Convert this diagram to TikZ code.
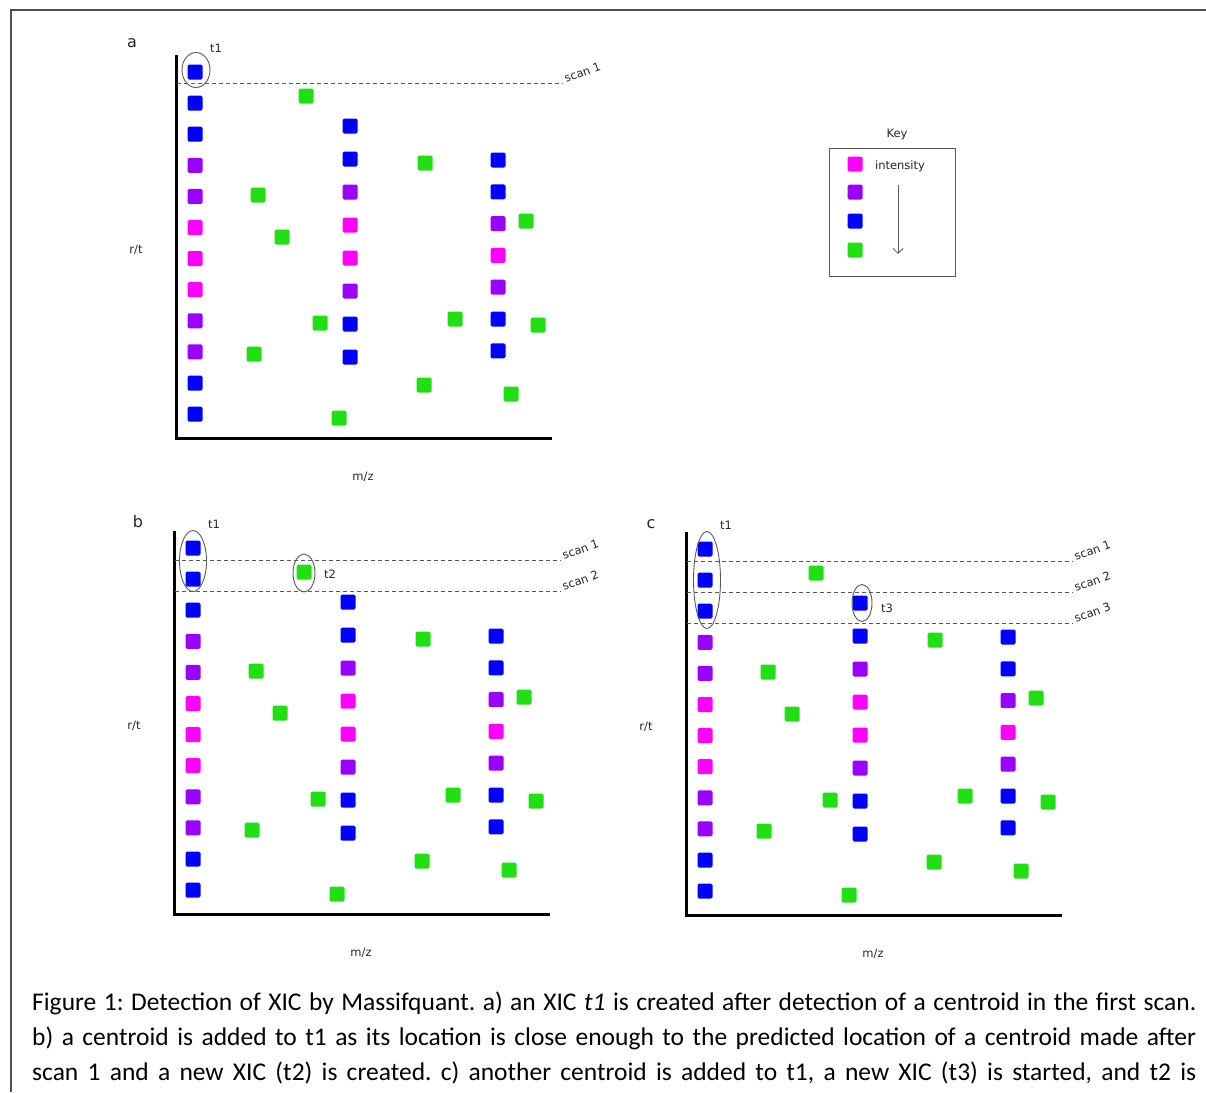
\documentclass[tikz,border=0pt]{standalone}
\usepackage{fontspec}
\newfontfamily\lblfont{DejaVu Sans}
\newfontfamily\capfont{Carlito}
\usetikzlibrary{arrows.meta,shapes.geometric}

\definecolor{bl}{RGB}{0,0,255}
\definecolor{pu}{RGB}{153,0,255}
\definecolor{mg}{RGB}{255,0,255}
\definecolor{gr}{RGB}{32,224,20}
\definecolor{framegray}{RGB}{80,80,80}
\definecolor{inkgray}{RGB}{90,90,90}

\tikzset{
  sq/.style={rectangle, minimum size=15pt, inner sep=0pt, rounded corners=1.5pt, draw=none},
  axisline/.style={line width=3pt, black, line join=miter},
  scanline/.style={inkgray, line width=0.8pt, dash pattern=on 4pt off 3pt},
  ring/.style={ellipse, draw=inkgray, line width=0.9pt, inner sep=0pt},
  lbl/.style={font=\lblfont\fontsize{11.5}{13}\selectfont, text=black!85, inner sep=0pt},
  panellbl/.style={font=\lblfont\fontsize{16}{18}\selectfont, text=black!85, inner sep=0pt},
  scanlbl/.style={lbl, anchor=base west, rotate=20},
  caption/.style={font=\capfont\fontsize{25.5}{30}\selectfont, anchor=base west, inner sep=0pt},
}

% one panel of centroids: three m/z columns of XIC points plus scattered noise
\newcommand\xicpanel[1]{%
  \foreach \c [count=\i] in {bl,bl,bl,pu,pu,mg,mg,mg,pu,pu,bl,bl}
    \node[sq, fill=\c] (#1-c1-\i) at (195,{72+31.1*(\i-1)}) {};
  \foreach \c [count=\i] in {bl,bl,pu,mg,mg,pu,bl,bl}
    \node[sq, fill=\c] (#1-c2-\i) at (350,{126+33*(\i-1)}) {};
  \foreach \c [count=\i] in {bl,bl,pu,mg,pu,bl,bl}
    \node[sq, fill=\c] (#1-c3-\i) at (498,{160+31.8*(\i-1)}) {};
  \foreach \p [count=\i] in {(306,96),(425,163),(258,195),(282,237),(526,221),(320,323),
                            (455,319),(538,325),(254,354),(424,385),(511,394),(339,418)}
    \node[sq, fill=gr] (#1-g-\i) at \p {};
  \coordinate (#1-ytop) at (176,55);
  \coordinate (#1-xend) at (552,438);
  \draw[axisline] (#1-ytop) |- (#1-xend);
  \node[lbl] (#1-rt) at (136,250) {r/t};
  \node[lbl] (#1-mz) at (363,477) {m/z};
  \node[lbl] (#1-t1) at (216,48) {t1};
}

\begin{document}
\begin{tikzpicture}[x=1pt,y=-1pt]
\useasboundingbox (0,0) rectangle (1206,1092);
\fill[white] (0,0) rectangle (1206,1092);

% outer frame
\coordinate (fr-bl) at (11,1092);
\coordinate (fr-tl) at (11,10);
\coordinate (fr-tr) at (1206,10);
\draw[framegray, line width=2pt] (fr-bl) -- (fr-tl) -- (fr-tr);

% ---------- panel a ----------
\begin{scope}
  \xicpanel{a}
  \node[panellbl] (a-lab) at (132,43) {a};
  \coordinate (a-s1l) at (177,83);
  \coordinate (a-s1r) at (563,83);
  \draw[scanline] (a-s1l) -- (a-s1r);
  \node[scanlbl] (a-s1) at ([xshift=3pt]a-s1r) {scan 1};
  \node[ring, minimum width=28pt, minimum height=35pt] (a-e1) at (196,70) {};
\end{scope}

% key
\node[draw=inkgray, line width=0.9pt, minimum width=126pt, minimum height=128pt, inner sep=0pt] (key) at (892,212) {};
\node[lbl] (key-title) at (897,135) {Key};
\node[sq, fill=mg] (k1) at (855,164) {};
\node[sq, fill=pu] (k2) at (855,192) {};
\node[sq, fill=bl] (k3) at (855,221) {};
\node[sq, fill=gr] (k4) at (855,250) {};
\node[lbl] (k-int) at (900,166) {intensity};
\coordinate (k-a1) at (898,185);
\coordinate (k-a2) at (898,254);
\draw[inkgray, line width=0.8pt, -{Straight Barb[length=5pt, width=10pt]}] (k-a1) -- (k-a2);

% ---------- panel b ----------
\begin{scope}[shift={(-2,476)}]
  \xicpanel{b}
  \coordinate (b-s1l) at (177,84);
  \coordinate (b-s1r) at (563,84);
  \coordinate (b-s2l) at (177,115);
  \coordinate (b-s2r) at (563,115);
  \draw[scanline] (b-s1l) -- (b-s1r);
  \draw[scanline] (b-s2l) -- (b-s2r);
  \node[scanlbl] (b-s1) at ([xshift=3pt]b-s1r) {scan 1};
  \node[scanlbl] (b-s2) at ([xshift=3pt]b-s2r) {scan 2};
  \node[ring, minimum width=27pt, minimum height=61pt] (b-e1) at (195,85) {};
  \node[ring, minimum width=22pt, minimum height=38pt] (b-e2) at (306,97) {};
  \node[lbl] (b-t2) at (332,98) {t2};
\end{scope}
\node[panellbl] (b-lab) at (138,522) {b};

% ---------- panel c ----------
\begin{scope}[shift={(510,477)}]
  \xicpanel{c}
  \coordinate (c-s1l) at (177,84);
  \coordinate (c-s1r) at (563,84);
  \coordinate (c-s2l) at (177,115);
  \coordinate (c-s2r) at (563,115);
  \coordinate (c-s3l) at (177,146);
  \coordinate (c-s3r) at (563,146);
  \draw[scanline] (c-s1l) -- (c-s1r);
  \draw[scanline] (c-s2l) -- (c-s2r);
  \draw[scanline] (c-s3l) -- (c-s3r);
  \node[scanlbl] (c-s1) at ([xshift=3pt]c-s1r) {scan 1};
  \node[scanlbl] (c-s2) at ([xshift=3pt]c-s2r) {scan 2};
  \node[scanlbl] (c-s3) at ([xshift=3pt]c-s3r) {scan 3};
  \node[ring, minimum width=27pt, minimum height=97pt] (c-e1) at (197,103) {};
  \node[ring, minimum width=20pt, minimum height=37pt] (c-e3) at (352,126) {};
  \node[lbl] (c-t3) at (377,131) {t3};
\end{scope}
\node[panellbl] (c-lab) at (651,524) {c};

% caption
\frenchspacing
\node[caption] (cap1) at (32,1010) {\makebox[1164pt][s]{Figure 1: Detection of XIC by Massifquant. a) an XIC \textit{t1} is created after detection of a centroid in the first scan.}};
\node[caption] (cap2) at (32,1045) {\makebox[1164pt][s]{b) a centroid is added to t1 as its location is close enough to the predicted location of a centroid made after}};
\node[caption] (cap3) at (32,1080) {\makebox[1164pt][s]{scan 1 and a new XIC (t2) is created. c) another centroid is added to t1, a new XIC (t3) is started, and t2 is}};
\end{tikzpicture}
\end{document}
